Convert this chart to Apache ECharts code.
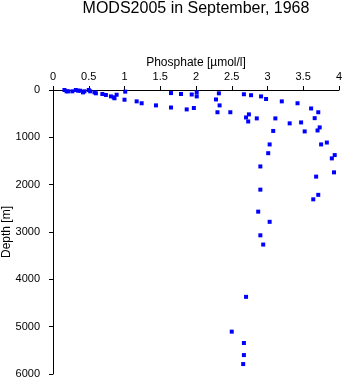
<!DOCTYPE html>
<html>
<head>
<meta charset="utf-8">
<script src="https://cdn.jsdelivr.net/npm/echarts@6/dist/echarts.min.js"></script>
<style>
  html, body { margin: 0; padding: 0; background: #fff; }
  #chart { width: 345px; height: 384px; }
</style>
</head>
<body>
<div id="chart"></div>
<script>
// Phosphate profile samples: concentration (µmol/l) and depth (m)
const phosphate = [
  0.16, 0.19, 0.21, 0.27, 0.32, 0.35, 0.38, 0.42, 0.44, 0.50,
  0.52, 0.58, 0.60, 0.69, 0.74, 0.81, 0.85, 0.86, 0.89, 1.01,
  1.00, 1.17, 1.24, 1.44, 1.65, 1.65, 1.79, 1.87, 1.94, 1.97,
  2.01, 2.01, 2.28, 2.32, 2.33, 2.30, 2.48, 2.67, 2.77, 2.91,
  2.98, 3.20, 3.42, 3.61, 3.71, 3.66, 3.47, 3.31, 3.11, 2.85,
  2.74, 2.70, 2.73, 3.08, 3.52, 3.73, 3.70, 3.03, 3.75, 3.83,
  3.01, 3.94, 3.90, 2.90, 3.93, 3.68, 2.90, 3.71, 3.64, 2.87,
  3.03, 2.90, 2.94, 2.70, 2.50, 2.67, 2.67, 2.66
];
const depth = [
  0, 28, 28, 28, 0, 15, 15, 50, 28, 0,
  28, 50, 70, 85, 105, 135, 155, 175, 100, 35,
  205, 240, 280, 325, 65, 370, 85, 410, 95, 380,
  50, 135, 200, 70, 325, 470, 470, 90, 110, 135,
  190, 240, 280, 390, 470, 595, 685, 705, 600, 600,
  515, 580, 665, 865, 875, 790, 855, 1150, 1150, 1110,
  1335, 1375, 1445, 1615, 1740, 1830, 2105, 2215, 2310, 2570,
  2785, 3070, 3265, 4370, 5105, 5345, 5600, 5790
];
const phosphateTicks = [0, 0.5, 1, 1.5, 2, 2.5, 3, 3.5, 4];
const depthTicks = [0, 1000, 2000, 3000, 4000, 5000, 6000];

const FONT = '"Liberation Sans", Arial, Helvetica, sans-serif';
const points = phosphate.map((p, i) => [p, depth[i]]);

const chart = echarts.init(document.getElementById('chart'), null, { renderer: 'canvas' });
chart.setOption({
  animation: false,
  backgroundColor: '#ffffff',
  graphic: [{
    type: 'text',
    x: 196, y: 1,
    style: {
      text: 'MODS2005 in September, 1968',
      fontFamily: FONT, fontSize: 16, fill: '#000',
      align: 'center', verticalAlign: 'top'
    }
  }],
  grid: { left: 53, right: 6, top: 90, bottom: 10, containLabel: false, outerBoundsMode: 'none' },
  xAxis: {
    type: 'value', position: 'top',
    min: phosphateTicks[0], max: phosphateTicks[phosphateTicks.length - 1], interval: 0.5,
    name: 'Phosphate [µmol/l]', nameLocation: 'middle', nameGap: 21, nameMoveOverlap: false,
    nameTextStyle: { fontFamily: FONT, fontSize: 12, color: '#000' },
    axisLine: { show: true, lineStyle: { color: '#000', width: 1 } },
    axisTick: { show: true, inside: false, length: 4, lineStyle: { color: '#000' } },
    axisLabel: { fontFamily: FONT, fontSize: 11, color: '#000', margin: 8,
      formatter: v => String(v) },
    splitLine: { show: false }
  },
  yAxis: {
    type: 'value', inverse: true,
    min: depthTicks[0], max: depthTicks[depthTicks.length - 1], interval: 1000,
    name: 'Depth [m]', nameLocation: 'middle', nameGap: 40, nameRotate: 90, nameMoveOverlap: false,
    nameTextStyle: { fontFamily: FONT, fontSize: 12, color: '#000' },
    axisLine: { show: true, lineStyle: { color: '#000', width: 1 } },
    axisTick: { show: true, inside: false, length: 4, lineStyle: { color: '#000' } },
    axisLabel: { fontFamily: FONT, fontSize: 11, color: '#000', margin: 13,
      formatter: v => String(v) },
    splitLine: { show: false }
  },
  series: [{
    type: 'scatter',
    data: points,
    symbol: 'rect',
    symbolSize: 4,
    itemStyle: { color: '#0000ff', opacity: 1 },
    clip: false
  }]
});
</script>
</body>
</html>
